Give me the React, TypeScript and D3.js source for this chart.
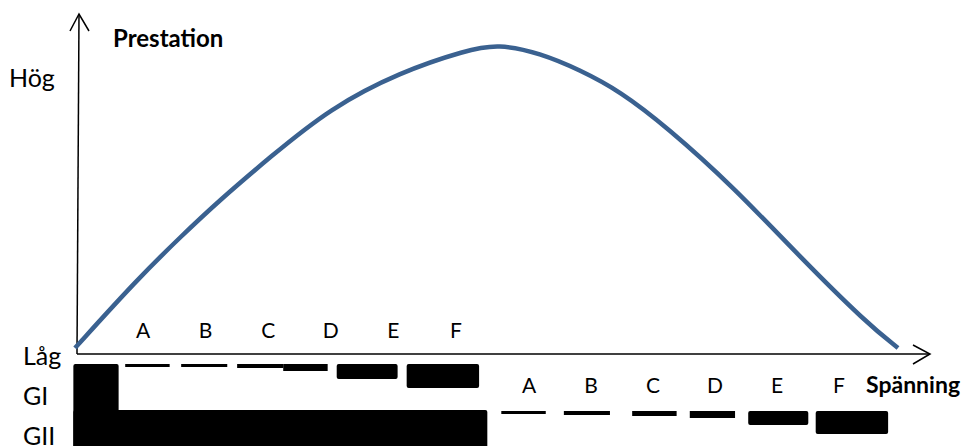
import React from "react";
import * as d3 from "d3";

// performance curve (x = spänning 0..100, y = prestation 0..100)
const curveX = [0, 7.5, 12.8, 17.6, 23.7, 31.0, 39.5, 47.6, 51.4, 56.5, 61.4, 66.2, 71.9, 80.0, 88.1, 96.2, 100];
const curveY = [0, 22.4, 36.5, 48.7, 62.8, 78.9, 90.8, 98.0, 100, 97.0, 91.4, 84.5, 72.7, 53.0, 29.9, 8.2, 0];

const letters = ["A", "B", "C", "D", "E", "F"];

// GI dashes: start, end (spänning units) and thickness
const g1Start = [6.1, 12.9, 19.7, 25.3, 31.8, 40.3];
const g1End = [11.5, 18.5, 25.3, 30.7, 39.2, 49.1];
const g1Thick = [3, 3, 4, 7, 15, 24];

// GII dashes
const g2Start = [51.8, 59.4, 67.7, 74.7, 81.8, 90.0];
const g2End = [57.2, 65.0, 73.1, 80.2, 89.1, 98.8];
const g2Thick = [3, 4, 5, 7, 14, 23];

// the two wide blocks
const blockStart = [-0.2, -0.2];
const blockEnd = [5.3, 50.1];

const W = 968;
const H = 446;
const font = "Lato, 'Open Sans', sans-serif";

export default function App() {
  const x = d3.scaleLinear().domain([0, 100]).range([75, 898]);
  const y = d3.scaleLinear().domain([0, 100]).range([348, 44]);
  const thick = d3.scaleLinear().domain([0, 10]).range([0, 10]);
  const lab1 = d3.scalePoint<string>().domain(letters).range([143, 456]);
  const lab2 = d3.scalePoint<string>().domain(letters).range([529, 839]);

  const pts: [number, number][] = curveX.map((d, i) => [d, curveY[i]]);
  const line = d3
    .line<[number, number]>()
    .x((d) => x(d[0]))
    .y((d) => y(d[1]))
    .curve(d3.curveBasis);

  const axisY = 354;
  const g1Top = 364;
  const g2Top = 411;

  return (
    <svg width={W} height={H} style={{ position: "absolute", left: 0, top: 0, background: "#fff" }}>
      {/* blocks */}
      <rect x={x(blockStart[0])} y={364} width={x(blockEnd[0]) - x(blockStart[0])} height={100} rx={2} fill="#000" />
      <rect x={x(blockStart[1])} y={410} width={x(blockEnd[1]) - x(blockStart[1])} height={60} rx={2} fill="#000" />

      {g1Start.map((s, i) => (
        <rect key={"a" + i} x={x(s)} y={g1Top} width={x(g1End[i]) - x(s)} height={thick(g1Thick[i])} rx={g1Thick[i] > 8 ? 2 : 0} fill="#000" />
      ))}
      {g2Start.map((s, i) => (
        <rect key={"b" + i} x={x(s)} y={g2Top} width={x(g2End[i]) - x(s)} height={thick(g2Thick[i])} rx={g2Thick[i] > 8 ? 2 : 0} fill="#000" />
      ))}

      {/* axes */}
      <line x1={77} y1={axisY} x2={79} y2={14} stroke="#000" strokeWidth={1.5} />
      <polyline points="70,31 79,14 89,31" fill="none" stroke="#000" strokeWidth={1.5} />
      <line x1={77} y1={axisY} x2={929} y2={axisY} stroke="#000" strokeWidth={1.5} />
      <polyline points="913,345 930,354 913,364" fill="none" stroke="#000" strokeWidth={1.5} />

      {/* curve */}
      <path d={line(pts) || ""} fill="none" stroke="#3a6190" strokeWidth={4.5} />

      {/* letter labels */}
      {letters.map((l) => (
        <text key={"l1" + l} x={lab1(l)} y={338} textAnchor="middle" fontFamily={font} fontSize={21} fill="#000">
          {l}
        </text>
      ))}
      {letters.map((l) => (
        <text key={"l2" + l} x={lab2(l)} y={393} textAnchor="middle" fontFamily={font} fontSize={21} fill="#000">
          {l}
        </text>
      ))}

      <text x={113} y={47} fontFamily={font} fontWeight="bold" fontSize={24}>Prestation</text>
      <text x={866} y={393} fontFamily={font} fontWeight="bold" fontSize={23}>Spänning</text>
      <text x={9} y={87} fontFamily={font} fontSize={25}>Hög</text>
      <text x={23} y={365} fontFamily={font} fontSize={25}>Låg</text>
      <text x={23} y={405} fontFamily={font} fontSize={25}>GI</text>
      <text x={23} y={445} fontFamily={font} fontSize={25}>GII</text>
    </svg>
  );
}
